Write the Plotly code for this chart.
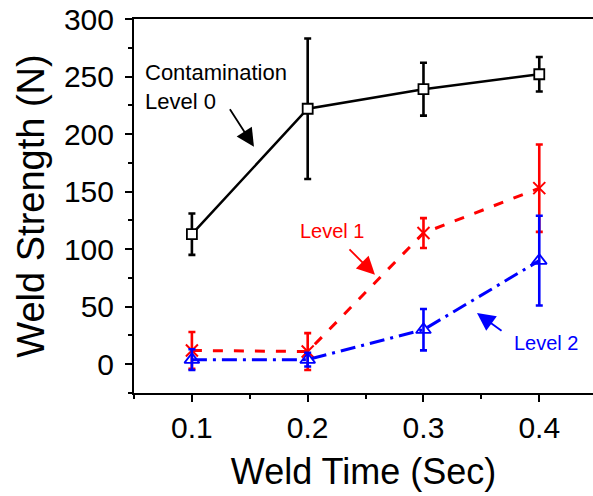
import plotly.graph_objects as go

# Weld time (s) and mean weld strength (N) with standard deviation per contamination level
weld_time = [0.1, 0.2, 0.3, 0.4]

level0_mean = [113, 222, 239, 252]
level0_err = [18, 61, 23, 15]

level1_mean = [12, 11, 114, 153]
level1_err = [16, 16, 13, 38]

level2_mean = [4, 4, 30, 90]
level2_err = [9, 6, 18, 39]

x_ticks = [0.1, 0.2, 0.3, 0.4]
y_ticks = [0, 50, 100, 150, 200, 250, 300]

FONT = "Liberation Sans, Arial, sans-serif"

fig = go.Figure()

fig.add_trace(go.Scatter(
    x=weld_time, y=level0_mean,
    mode="lines+markers",
    line=dict(color="black", width=2.5),
    marker=dict(symbol="square", size=10, color="white",
                line=dict(color="black", width=1.8)),
    error_y=dict(type="data", array=level0_err, visible=True,
                 color="black", thickness=2.6, width=3.5),
    showlegend=False,
))

fig.add_trace(go.Scatter(
    x=weld_time, y=level1_mean,
    mode="lines+markers",
    line=dict(color="#ff0000", width=3, dash="10px,11px"),
    marker=dict(symbol="x-thin", size=12, color="#ff0000",
                line=dict(color="#ff0000", width=2)),
    error_y=dict(type="data", array=level1_err, visible=True,
                 color="#ff0000", thickness=2.6, width=3.5),
    showlegend=False,
))

fig.add_trace(go.Scatter(
    x=weld_time, y=level2_mean,
    mode="lines+markers",
    line=dict(color="#0000ff", width=3, dash="15px,6px,3px,6px"),
    marker=dict(symbol="triangle-up-open", size=13, color="#0000ff",
                line=dict(color="#0000ff", width=1.8)),
    error_y=dict(type="data", array=level2_err, visible=True,
                 color="#0000ff", thickness=2.6, width=3.5),
    showlegend=False,
))

# Series labels with arrows pointing at each curve
ARROW = dict(showarrow=True, arrowhead=2, arrowsize=2, arrowwidth=1.8,
             axref="x", ayref="y", text="")

fig.add_annotation(x=0.0578, y=241, text="Contamination<br>Level 0",
                   showarrow=False, xanchor="left", yanchor="middle", align="left",
                   font=dict(family=FONT, size=22, color="black"))
fig.add_annotation(x=0.1536, y=189, ax=0.132, ay=222.9, arrowcolor="black", **ARROW)

fig.add_annotation(x=0.1916, y=116, text="Level 1",
                   showarrow=False, xanchor="left", yanchor="middle",
                   font=dict(family=FONT, size=20, color="#ff0000"))
fig.add_annotation(x=0.2581, y=77.7, ax=0.2348, ay=101.1, arrowcolor="#ff0000", **ARROW)

fig.add_annotation(x=0.3764, y=18.5, text="Level 2",
                   showarrow=False, xanchor="left", yanchor="middle",
                   font=dict(family=FONT, size=20, color="#0000ff"))
fig.add_annotation(x=0.3462, y=44.6, ax=0.3687, ay=28.1, arrowcolor="#0000ff", **ARROW)

fig.update_layout(
    width=593, height=496,
    margin=dict(l=134, r=0, t=19, b=103),
    paper_bgcolor="white", plot_bgcolor="white",
    font=dict(family=FONT, color="black"),
)

fig.update_xaxes(
    range=[0.05, 0.4464],
    tickvals=x_ticks, ticktext=[f"{v:.1f}" for v in x_ticks],
    ticks="outside", ticklen=7, tickwidth=1.5, tickcolor="black",
    minor=dict(ticks="outside", ticklen=4, tickwidth=1.5, tickcolor="black",
               tickvals=[0.05, 0.15, 0.25, 0.35]),
    showline=True, linecolor="black", linewidth=2, mirror=True,
    showgrid=False, zeroline=False,
    tickfont=dict(family=FONT, size=30),
    title=dict(text="Weld Time (Sec)", font=dict(family=FONT, size=36), standoff=16),
)

fig.update_yaxes(
    range=[-25, 300],
    tickvals=y_ticks,
    ticks="outside", ticklen=7, tickwidth=1.5, tickcolor="black",
    minor=dict(ticks="outside", ticklen=4, tickwidth=1.5, tickcolor="black",
               tickvals=[-25, 25, 75, 125, 175, 225, 275]),
    showline=True, linecolor="black", linewidth=2, mirror=False,
    showgrid=False, zeroline=False,
    tickfont=dict(family=FONT, size=30),
    ticklabelstandoff=5,
    title=dict(text="Weld Strength (N)", font=dict(family=FONT, size=38), standoff=8),
)

fig.write_html("out.html")
